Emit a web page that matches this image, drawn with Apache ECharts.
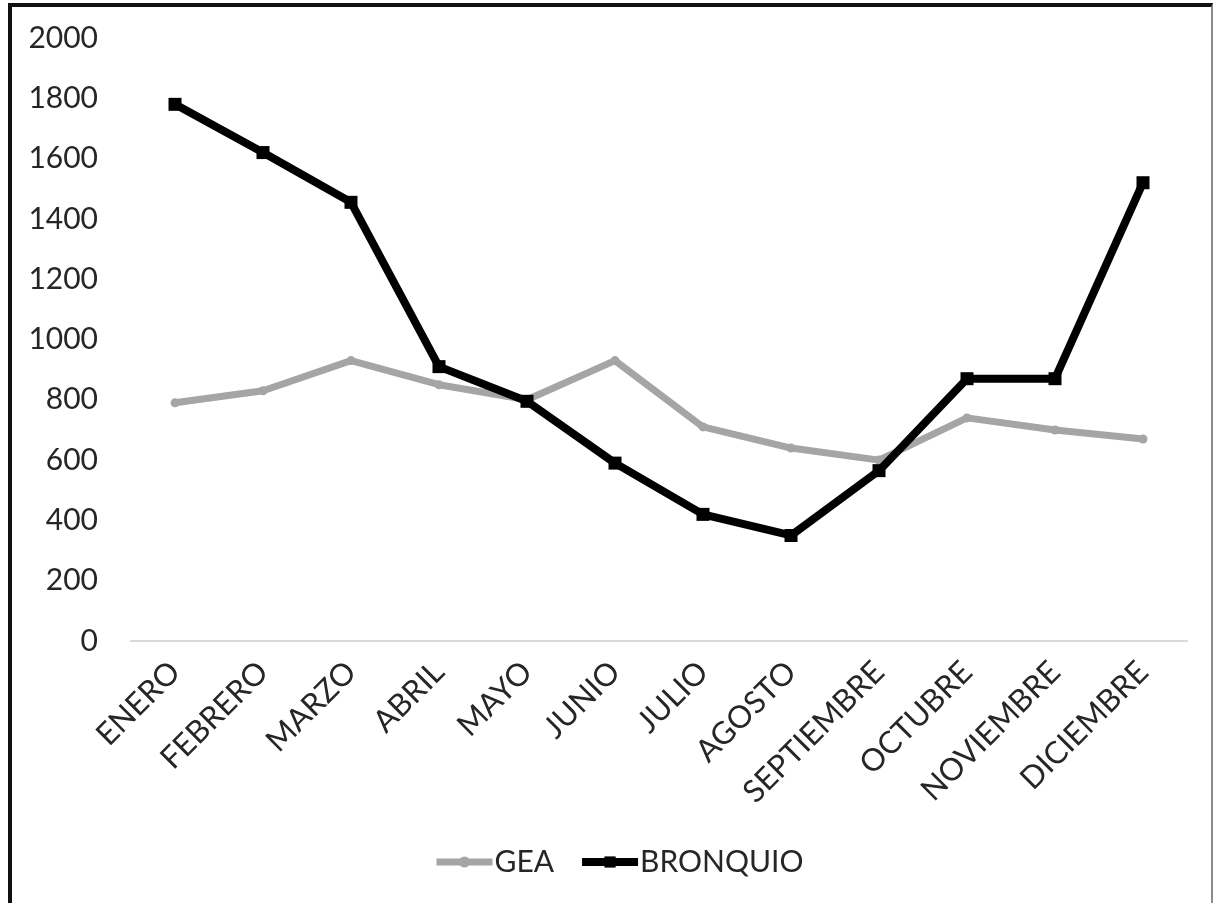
<!DOCTYPE html>
<html>
<head>
<meta charset="utf-8">
<title>GEA / BRONQUIO</title>
<script src="https://cdn.jsdelivr.net/npm/echarts@6/dist/echarts.min.js"></script>
<style>
  html, body { margin: 0; padding: 0; background: #fff; }
  #chart { position: absolute; left: 0; top: 0; width: 1213px; height: 903px; }
  #frame {
    position: absolute; left: 8px; top: 3px; width: 1199px; height: 910px;
    border-left: 4px solid #111; border-top: 4px solid #111; border-right: 2px solid #8a8a8a;
    pointer-events: none;
  }
</style>
</head>
<body>
<div id="chart"></div>
<div id="frame"></div>
<script>
// Monthly counts for the two series
const months = ['ENERO', 'FEBRERO', 'MARZO', 'ABRIL', 'MAYO', 'JUNIO', 'JULIO',
                'AGOSTO', 'SEPTIEMBRE', 'OCTUBRE', 'NOVIEMBRE', 'DICIEMBRE'];
const gea      = [790, 830, 930, 850, 800, 930, 710, 640, 600, 740, 700, 670];
const bronquio = [1780, 1620, 1455, 910, 795, 590, 420, 350, 565, 870, 870, 1520];

const yMin = 0, yMax = 2000, yStep = 200;

const FONT = 'Lato, "Open Sans", sans-serif';
const TEXT = '#262626';
const GRAY = '#a5a5a5';

const chart = echarts.init(document.getElementById('chart'));
chart.setOption({
  animation: false,
  backgroundColor: '#ffffff',
  grid: { left: 131, right: 26, top: 38, bottom: 262 },
  xAxis: {
    type: 'category',
    data: months,
    boundaryGap: true,
    axisLine: { show: true, lineStyle: { color: '#d9d9d9', width: 2 } },
    axisTick: { show: false },
    axisLabel: {
      rotate: 45, margin: 26, interval: 0,
      color: TEXT, fontFamily: FONT, fontSize: 31
    },
    splitLine: { show: false }
  },
  yAxis: {
    type: 'value',
    min: yMin, max: yMax, interval: yStep,
    axisLine: { show: false },
    axisTick: { show: false },
    splitLine: { show: false },
    axisLabel: {
      margin: 33, color: TEXT, fontFamily: FONT, fontSize: 30,
      formatter: (v) => String(v)
    }
  },
  legend: {
    bottom: 21, left: 428,
    itemWidth: 56, itemHeight: 14, itemGap: 24,
    textStyle: { color: TEXT, fontFamily: FONT, fontSize: 30, padding: [0, 0, 0, -3] },
    data: [
      { name: 'GEA', lineStyle: { width: 7, color: GRAY }, itemStyle: { color: GRAY } },
      { name: 'BRONQUIO', lineStyle: { width: 8, color: '#000' }, itemStyle: { color: '#000' } }
    ]
  },
  series: [
    {
      name: 'GEA', type: 'line', data: gea,
      symbol: 'circle', symbolSize: 9,
      lineStyle: { color: GRAY, width: 7 },
      itemStyle: { color: GRAY },
      z: 2
    },
    {
      name: 'BRONQUIO', type: 'line', data: bronquio,
      symbol: 'rect', symbolSize: 13,
      lineStyle: { color: '#000000', width: 8 },
      itemStyle: { color: '#000000' },
      z: 3
    }
  ]
});
</script>
</body>
</html>
